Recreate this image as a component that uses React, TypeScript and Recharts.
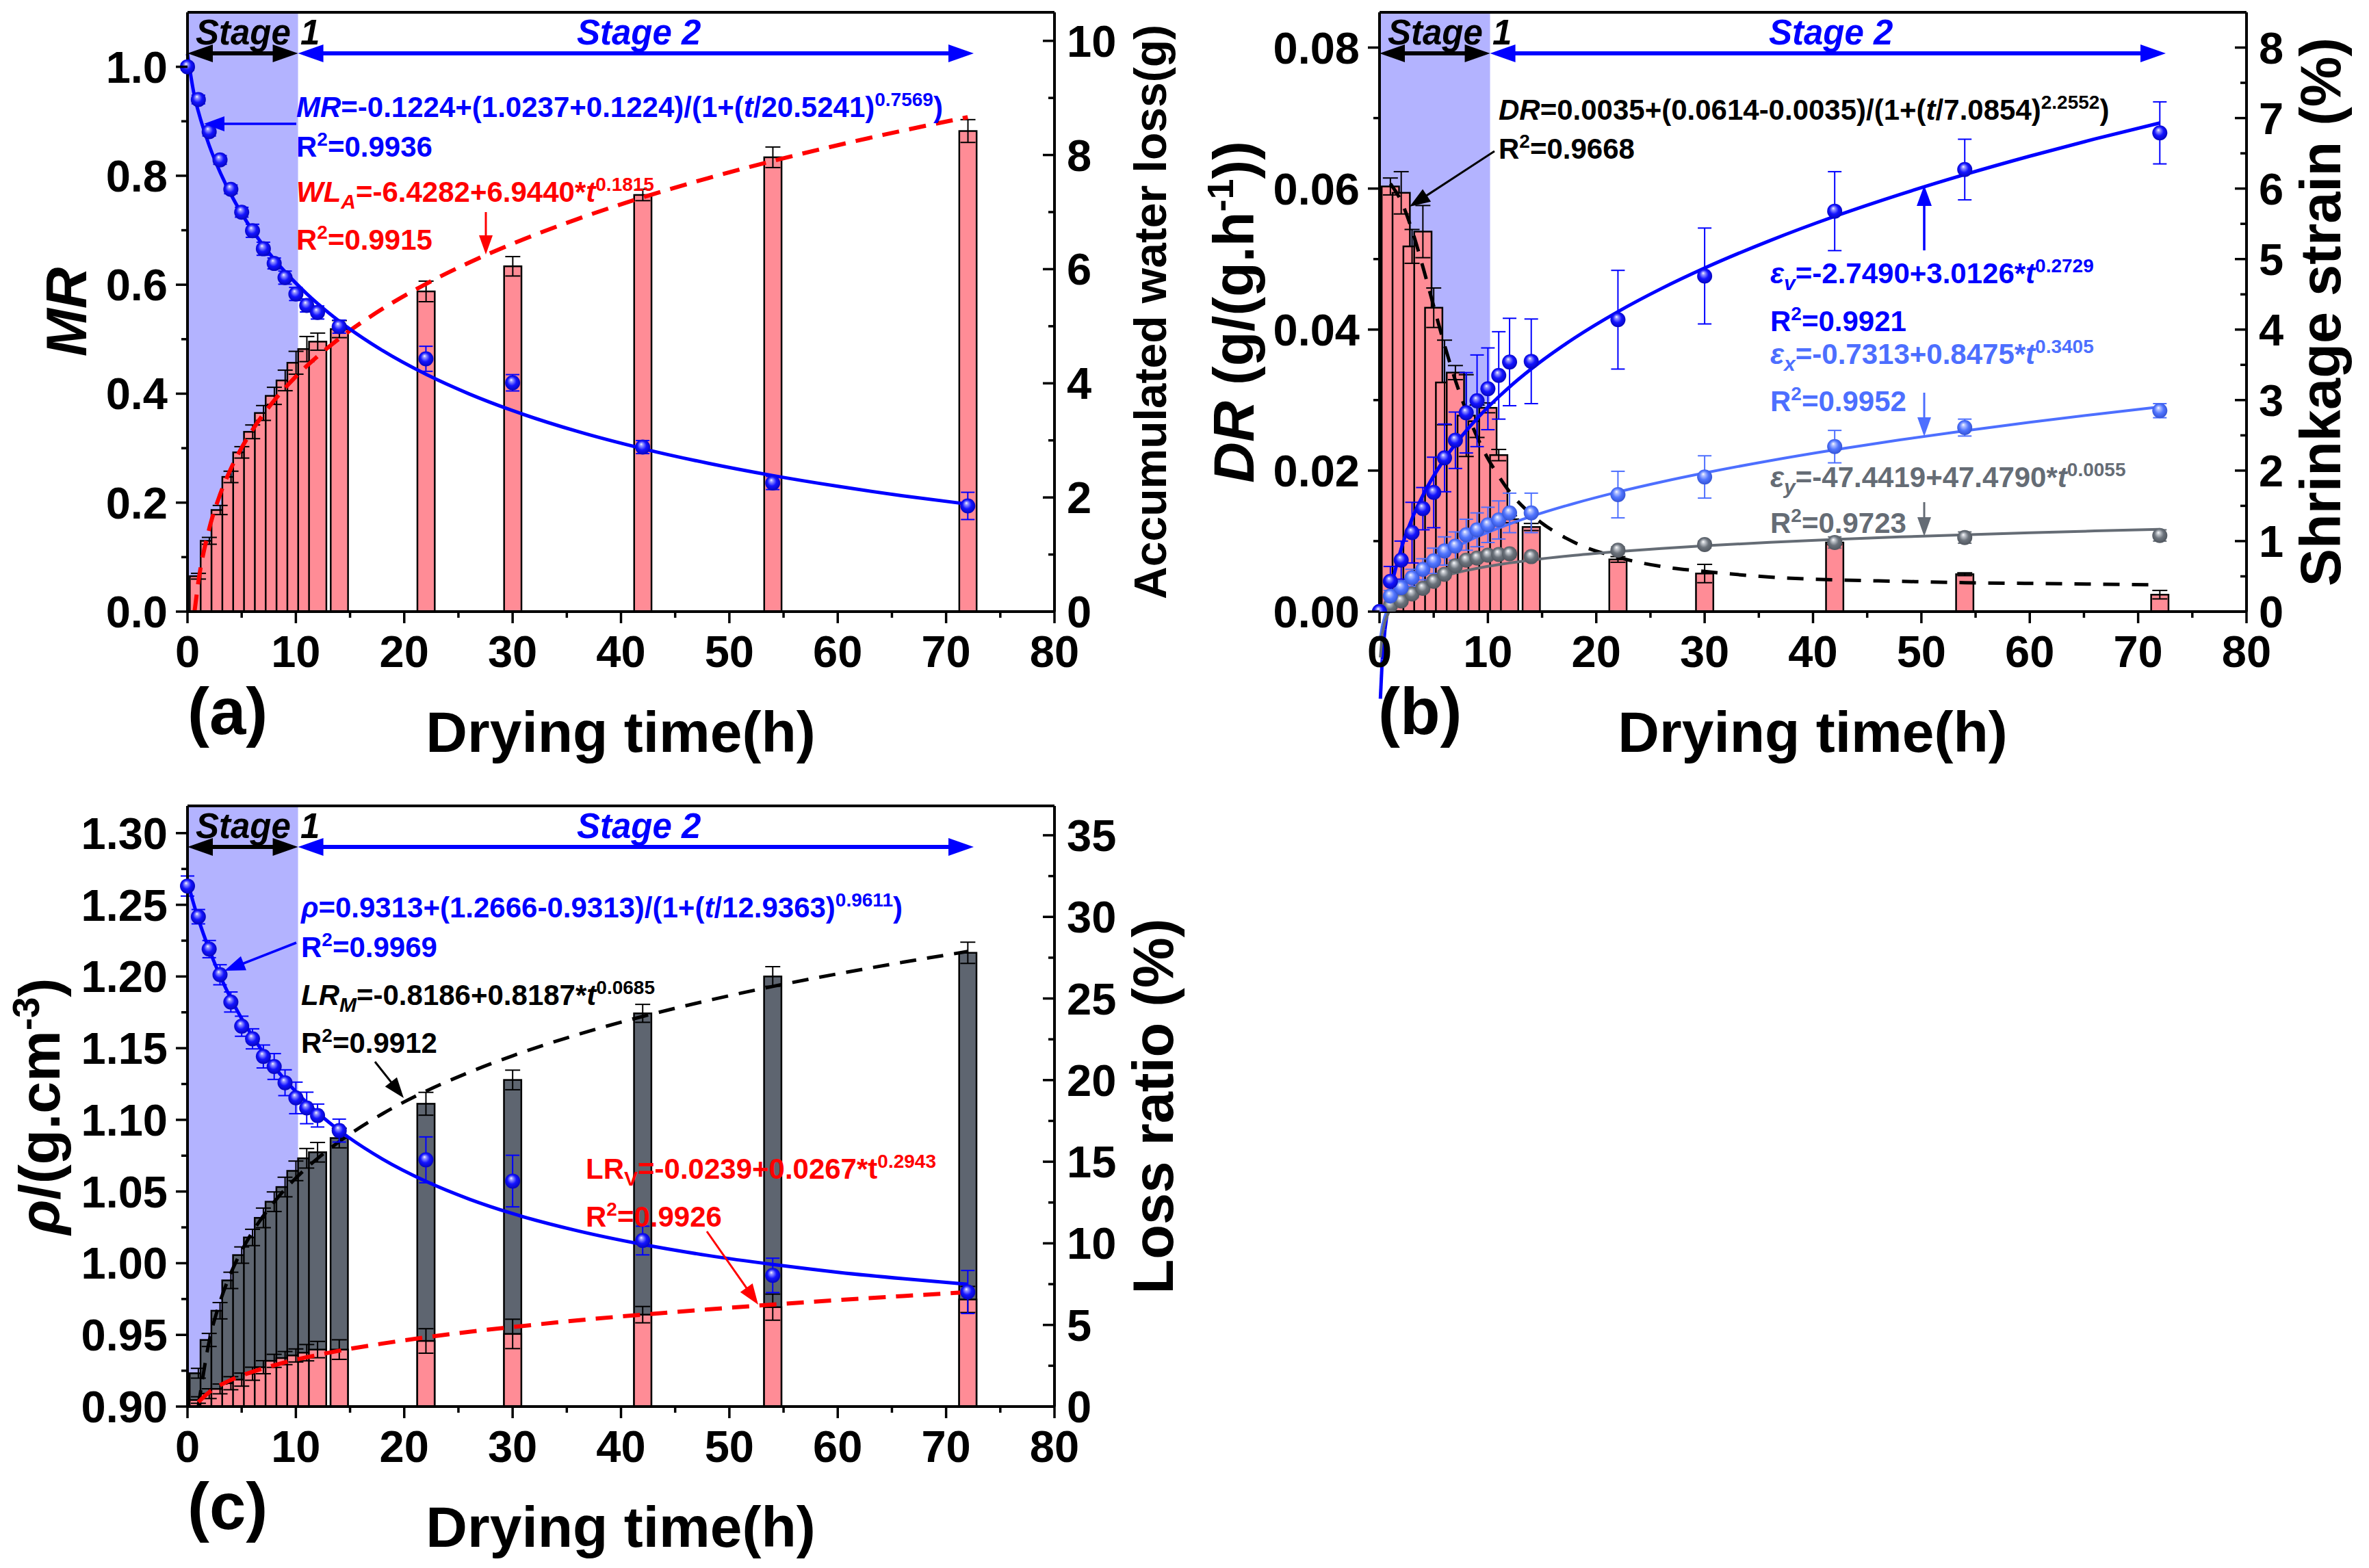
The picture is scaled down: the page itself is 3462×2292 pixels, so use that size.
import React from 'react';
import { ComposedChart, Bar, Line, XAxis, YAxis, ReferenceArea, ReferenceLine, ErrorBar } from 'recharts';

const FONT = '"Liberation Sans", Arial, Helvetica, sans-serif';
const BLUE = '#0000FF';
const LBLUE = '#4D6FFF';
const GRAY = '#656C75';
const DGRAY = '#5E6570';
const PINK = '#FF8C96';
const LAV = '#B3B3FF';
const RED = '#FF0000';

// ---------------- data: measured times ----------------
const TIME = [0, 1, 2, 3, 4, 5, 6, 7, 8, 9, 10, 11, 12, 14, 22, 30, 42, 54, 72];

// (a) moisture ratio & accumulated water loss
const MR = [1.0, 0.94, 0.881, 0.829, 0.775, 0.733, 0.699, 0.666, 0.639, 0.613, 0.583, 0.562, 0.549, 0.523, 0.464, 0.42, 0.302, 0.236, 0.194];
const MR_ERR = [0.006, 0.008, 0.008, 0.008, 0.008, 0.009, 0.012, 0.012, 0.01, 0.012, 0.012, 0.012, 0.012, 0.012, 0.023, 0.015, 0.012, 0.012, 0.025];
const WL = [null, 0.62, 1.24, 1.78, 2.36, 2.79, 3.15, 3.48, 3.78, 4.05, 4.36, 4.6, 4.73, 4.95, 5.61, 6.05, 7.3, 7.96, 8.42];
const WL_ERR = [null, 0.05, 0.06, 0.08, 0.1, 0.1, 0.12, 0.13, 0.15, 0.18, 0.2, 0.22, 0.15, 0.15, 0.18, 0.17, 0.1, 0.18, 0.2];

// (b) drying rate & shrinkage strains
const DR = [null, 0.0603, 0.0594, 0.0518, 0.0539, 0.0431, 0.0325, 0.0339, 0.0278, 0.027, 0.0289, 0.0222, 0.0131, 0.012, 0.0074, 0.0054, 0.0098, 0.0053, 0.0024];
const DR_ERR = [null, 0.0012, 0.003, 0.0024, 0.0037, 0.0028, 0.006, 0.001, 0.0058, 0.0023, 0.0007, 0.0008, 0.0005, 0.0005, 0.0004, 0.0013, 0.0003, 0.0002, 0.0006];
const EV = [0, 0.43, 0.73, 1.12, 1.46, 1.69, 2.18, 2.43, 2.82, 2.99, 3.16, 3.35, 3.54, 3.55, 4.14, 4.76, 5.68, 6.27, 6.79];
const EV_ERR = [null, 0.21, 0.27, 0.43, 0.3, 0.5, 0.48, 0.4, 0.57, 0.65, 0.58, 0.62, 0.62, 0.6, 0.7, 0.68, 0.56, 0.43, 0.44];
const EX = [0, 0.22, 0.34, 0.48, 0.6, 0.72, 0.86, 0.93, 1.09, 1.16, 1.23, 1.3, 1.4, 1.4, 1.66, 1.91, 2.34, 2.61, 2.85];
const EX_ERR = [null, 0.08, 0.1, 0.12, 0.15, 0.18, 0.2, 0.2, 0.22, 0.24, 0.25, 0.27, 0.28, 0.28, 0.33, 0.3, 0.23, 0.12, 0.1];
const EY = [0, 0.08, 0.15, 0.25, 0.33, 0.43, 0.53, 0.65, 0.73, 0.76, 0.8, 0.81, 0.82, 0.78, 0.87, 0.95, 0.98, 1.05, 1.08];
const EY_ERR = [null, 0.03, 0.04, 0.05, 0.05, 0.05, 0.05, 0.05, 0.05, 0.05, 0.05, 0.05, 0.05, 0.05, 0.05, 0.05, 0.08, 0.08, 0.08];

// (c) density & loss ratios
const RHO = [1.2631, 1.2417, 1.2191, 1.2012, 1.1822, 1.1653, 1.1565, 1.1442, 1.1372, 1.1259, 1.1153, 1.1083, 1.103, 1.0925, 1.0721, 1.0573, 1.0158, 0.9915, 0.9799];
const RHO_ERR = [0.007, 0.005, 0.006, 0.007, 0.007, 0.007, 0.007, 0.008, 0.009, 0.009, 0.011, 0.011, 0.008, 0.008, 0.016, 0.018, 0.01, 0.012, 0.015];
const LRM = [null, 2.04, 4.08, 5.87, 7.73, 9.28, 10.36, 11.56, 12.55, 13.45, 14.44, 15.21, 15.58, 16.45, 18.55, 20.01, 24.09, 26.35, 27.8];
const LRM_ERR = [null, 0.3, 0.4, 0.5, 0.5, 0.5, 0.5, 0.6, 0.6, 0.6, 0.6, 0.6, 0.6, 0.6, 0.7, 0.6, 0.55, 0.6, 0.65];
const LRV = [null, 0.4, 0.79, 1.08, 1.43, 1.65, 2.01, 2.41, 2.8, 2.97, 3.13, 3.3, 3.49, 3.49, 4.02, 4.45, 5.63, 6.09, 6.56];
const LRV_ERR = [null, 0.2, 0.3, 0.3, 0.4, 0.4, 0.4, 0.4, 0.4, 0.4, 0.4, 0.5, 0.5, 0.6, 0.75, 0.9, 0.5, 0.8, 0.8];

// ---------------- fitted curves ----------------
const FIT_T_A = [0, 0.65, 1, 2, 3, 4, 5, 6, 7, 8, 9, 10, 11, 12, 14, 18, 22, 26, 30, 36, 42, 48, 54, 60, 66, 72];
const MR_FIT = [1.0237, 0.9454, 0.918, 0.8558, 0.8069, 0.766, 0.7307, 0.6996, 0.6718, 0.6467, 0.6238, 0.6029, 0.5835, 0.5655, 0.5331, 0.4791, 0.4356, 0.3995, 0.3689, 0.3306, 0.2991, 0.2725, 0.2497, 0.23, 0.2126, 0.1973];
const WL_FIT = [null, 0.0, 0.516, 1.447, 2.048, 2.503, 2.872, 3.185, 3.457, 3.7, 3.919, 4.119, 4.303, 4.473, 4.783, 5.306, 5.741, 6.116, 6.446, 6.879, 7.257, 7.592, 7.895, 8.172, 8.427, 8.663];

const FIT_T_B = [0, 0.25, 0.5, 1, 2, 3, 4, 5, 6, 7, 8, 9, 10, 11, 12, 14, 18, 22, 26, 30, 36, 42, 48, 54, 60, 66, 72];
const DR_FIT = [null, null, null, 0.0607, 0.0582, 0.0541, 0.0489, 0.0433, 0.0378, 0.0328, 0.0285, 0.0248, 0.0217, 0.0192, 0.017, 0.0138, 0.0098, 0.0077, 0.0064, 0.0057, 0.0049, 0.0045, 0.0043, 0.0041, 0.004, 0.0039, 0.0038];
const EV_FIT = [null, -0.685, -0.256, 0.264, 0.891, 1.317, 1.649, 1.925, 2.164, 2.375, 2.565, 2.738, 2.898, 3.047, 3.187, 3.442, 3.881, 4.254, 4.581, 4.873, 5.261, 5.606, 5.916, 6.199, 6.46, 6.703, 6.93];
const EX_FIT = [null, -0.203, -0.062, 0.116, 0.342, 0.501, 0.627, 0.735, 0.829, 0.913, 0.989, 1.06, 1.125, 1.186, 1.244, 1.35, 1.536, 1.697, 1.839, 1.967, 2.14, 2.295, 2.435, 2.565, 2.685, 2.798, 2.904];
const EY_FIT = [null, -0.324, -0.144, 0.037, 0.219, 0.325, 0.401, 0.459, 0.507, 0.548, 0.583, 0.614, 0.642, 0.667, 0.69, 0.731, 0.798, 0.851, 0.896, 0.934, 0.982, 1.023, 1.059, 1.09, 1.118, 1.144, 1.167];
// portions of the strain fits that the original draws below the time axis
const EV_TAIL_T = [0.08, 0.25, 0.5, 0.72];
const EV_TAIL = [-1.237, -0.685, -0.256, 0];
const EX_TAIL_T = [0.08, 0.25, 0.5, 0.65];
const EX_TAIL = [-0.373, -0.203, -0.062, 0];
const EY_TAIL_T = [0.07, 0.25, 0.5, 0.87];
const EY_TAIL = [-0.65, -0.324, -0.144, 0];

const FIT_T_C = [0, 0.5, 1, 2, 3, 4, 5, 6, 7, 8, 9, 10, 11, 12, 14, 18, 22, 26, 30, 36, 42, 48, 54, 60, 66, 72];
const RHO_FIT = [1.2666, 1.2525, 1.2402, 1.2188, 1.2005, 1.1846, 1.1706, 1.1582, 1.147, 1.137, 1.1279, 1.1196, 1.112, 1.105, 1.0926, 1.0726, 1.0571, 1.0447, 1.0346, 1.0226, 1.0131, 1.0054, 0.9991, 0.9937, 0.9892, 0.9853];
const LRM_FIT = [null, null, 0.01, 3.99, 6.41, 8.17, 9.55, 10.7, 11.68, 12.54, 13.31, 14.0, 14.63, 15.2, 16.23, 17.94, 19.32, 20.48, 21.49, 22.79, 23.9, 24.87, 25.74, 26.51, 27.22, 27.88];
const LRV_FIT = [null, null, 0.28, 0.88, 1.3, 1.63, 1.9, 2.13, 2.34, 2.53, 2.71, 2.87, 3.02, 3.16, 3.42, 3.86, 4.24, 4.58, 4.87, 5.28, 5.63, 5.95, 6.25, 6.52, 6.77, 7.01];

// ---------------- tick labels ----------------
const X_TICKS = [0, 5, 10, 15, 20, 25, 30, 35, 40, 45, 50, 55, 60, 65, 70, 75, 80];
const X_MAJ = [0, 10, 20, 30, 40, 50, 60, 70, 80];
const A_L_TICKS = [0, 0.1, 0.2, 0.3, 0.4, 0.5, 0.6, 0.7, 0.8, 0.9, 1.0];
const A_L_MAJ = [0, 0.2, 0.4, 0.6, 0.8, 1.0];
const A_R_TICKS = [0, 1, 2, 3, 4, 5, 6, 7, 8, 9, 10];
const A_R_MAJ = [0, 2, 4, 6, 8, 10];
const B_L_TICKS = [0, 0.01, 0.02, 0.03, 0.04, 0.05, 0.06, 0.07, 0.08];
const B_L_MAJ = [0, 0.02, 0.04, 0.06, 0.08];
const B_R_TICKS = [0, 0.5, 1, 1.5, 2, 2.5, 3, 3.5, 4, 4.5, 5, 5.5, 6, 6.5, 7, 7.5, 8];
const B_R_MAJ = [0, 1, 2, 3, 4, 5, 6, 7, 8];
const C_L_TICKS = [0.9, 0.925, 0.95, 0.975, 1.0, 1.025, 1.05, 1.075, 1.1, 1.125, 1.15, 1.175, 1.2, 1.225, 1.25, 1.275, 1.3];
const C_L_MAJ = [0.9, 0.95, 1.0, 1.05, 1.1, 1.15, 1.2, 1.25, 1.3];
const C_R_TICKS = [0, 2.5, 5, 7.5, 10, 12.5, 15, 17.5, 20, 22.5, 25, 27.5, 30, 32.5, 35];
const C_R_MAJ = [0, 5, 10, 15, 20, 25, 30, 35];

type Row = { t: number; [k: string]: number };
function mergeRows(groups: Array<[number[], Record<string, Array<number | null>>]>): Row[] {
  const map = new Map<number, Row>();
  for (const [times, cols] of groups) {
    times.forEach((t, i) => {
      let r = map.get(t);
      if (!r) {
        r = { t };
        map.set(t, r);
      }
      for (const k of Object.keys(cols)) {
        const v = cols[k][i];
        if (v !== null && v !== undefined) r[k] = v;
      }
    });
  }
  return Array.from(map.values()).sort((a, b) => a.t - b.t);
}

const rowsA = mergeRows([
  [TIME, { mr: MR, mrErr: MR_ERR, wl: WL, wlErr: WL_ERR }],
  [FIT_T_A, { mrFit: MR_FIT, wlFit: WL_FIT }],
]);
const rowsB = mergeRows([
  [TIME, { dr: DR, drErr: DR_ERR, ev: EV, evErr: EV_ERR, ex: EX, exErr: EX_ERR, ey: EY, eyErr: EY_ERR }],
  [FIT_T_B, { drFit: DR_FIT, evFit: EV_FIT, exFit: EX_FIT, eyFit: EY_FIT }],
]);
const rowsC = mergeRows([
  [TIME, { rho: RHO, rhoErr: RHO_ERR, lrm: LRM, lrmErr: LRM_ERR, lrv: LRV, lrvErr: LRV_ERR }],
  [FIT_T_C, { rhoFit: RHO_FIT, lrmFit: LRM_FIT, lrvFit: LRV_FIT }],
]);

function tailSegments(ts: number[], vs: number[]) {
  const segs: Array<[{ x: number; y: number }, { x: number; y: number }]> = [];
  for (let i = 1; i < ts.length; i++) segs.push([{ x: ts[i - 1], y: vs[i - 1] }, { x: ts[i], y: vs[i] }]);
  return segs;
}

// ---------------- layout / style ----------------
const PLOT_W = 1267;
const PX_PER_H = PLOT_W / 80;
const BAR_W = 1.6 * PX_PER_H;
const AXIS_LINE = { stroke: '#000', strokeWidth: 4 };

function barShape(fill: string) {
  return (p: any) => {
    const { x, y, width, height } = p;
    if (![x, y, width, height].every((n) => typeof n === 'number' && isFinite(n)) || height <= 0) return <g />;
    const cx = x + width / 2;
    return <rect x={cx - BAR_W / 2} y={y} width={BAR_W} height={height} fill={fill} stroke="#000" strokeWidth={2.5} />;
  };
}
const pinkBar = barShape(PINK);
const grayBar = barShape(DGRAY);

function SphereDot(p: any) {
  const { cx, cy, gid } = p;
  if (typeof cx !== 'number' || typeof cy !== 'number' || !isFinite(cx) || !isFinite(cy)) return null;
  return <circle cx={cx} cy={cy} r={11} fill={`url(#${gid})`} />;
}

function makeTick(kind: 'left' | 'right' | 'bottom', majors: number[], fmt: (v: number) => string) {
  return function TickMark(props: any) {
    const { x, y, payload } = props;
    const v = Number(payload && payload.value);
    const isMajor = majors.some((m) => Math.abs(m - v) < 1e-6);
    const len = isMajor ? 17 : 9;
    const tp = { fontFamily: FONT, fontWeight: 700, fontSize: 65, fill: '#000' } as any;
    if (kind === 'bottom') {
      return (
        <g>
          <line x1={x} y1={y} x2={x} y2={y + len} stroke="#000" strokeWidth={3.5} />
          {isMajor && (
            <text x={x} y={y + 81} textAnchor="middle" {...tp}>
              {fmt(v)}
            </text>
          )}
        </g>
      );
    }
    if (kind === 'left') {
      return (
        <g>
          <line x1={x - len} y1={y} x2={x} y2={y} stroke="#000" strokeWidth={3.5} />
          {isMajor && (
            <text x={x - 29} y={y + 23} textAnchor="end" {...tp}>
              {fmt(v)}
            </text>
          )}
        </g>
      );
    }
    return (
      <g>
        <line x1={x - len} y1={y} x2={x} y2={y} stroke="#000" strokeWidth={3.5} />
        {isMajor && (
          <text x={x + 18} y={y + 23} textAnchor="start" {...tp}>
            {fmt(v)}
          </text>
        )}
      </g>
    );
  };
}

const xTick = makeTick('bottom', X_MAJ, (v) => String(v));
const aLTick = makeTick('left', A_L_MAJ, (v) => v.toFixed(1));
const aRTick = makeTick('right', A_R_MAJ, (v) => String(v));
const bLTick = makeTick('left', B_L_MAJ, (v) => v.toFixed(2));
const bRTick = makeTick('right', B_R_MAJ, (v) => String(v));
const cLTick = makeTick('left', C_L_MAJ, (v) => v.toFixed(2));
const cRTick = makeTick('right', C_R_MAJ, (v) => String(v));

function Arrow(props: { x1: number; y1: number; x2: number; y2: number; color: string; w?: number; hl?: number; hw?: number; both?: boolean }) {
  const { x1, y1, x2, y2, color, w = 3, hl = 30, hw = 11, both = false } = props;
  const a = Math.atan2(y2 - y1, x2 - x1);
  const c = Math.cos(a);
  const s = Math.sin(a);
  const head = (tx: number, ty: number, dir: number) => {
    const bx = tx - dir * hl * c;
    const by = ty - dir * hl * s;
    return `${tx},${ty} ${bx - s * hw},${by + c * hw} ${bx + s * hw},${by - c * hw}`;
  };
  const sx = both ? x1 + hl * 0.8 * c : x1;
  const sy = both ? y1 + hl * 0.8 * s : y1;
  const ex = x2 - hl * 0.8 * c;
  const ey = y2 - hl * 0.8 * s;
  return (
    <g>
      <line x1={sx} y1={sy} x2={ex} y2={ey} stroke={color} strokeWidth={w} />
      <polygon points={head(x2, y2, 1)} fill={color} />
      {both && <polygon points={head(x1, y1, -1)} fill={color} />}
    </g>
  );
}

const ANN = { fontFamily: FONT, fontSize: 42, fontWeight: 700 } as any;
const TITLE = { fontFamily: FONT, fontWeight: 700 } as any;

function StageMarks({ L, T }: { L: number; T: number }) {
  const mid = L + 10.2 * PX_PER_H;
  const end = L + 72.55 * PX_PER_H;
  const ay = T + 60;
  return (
    <g>
      <text x={L + 12} y={T + 47} fontFamily={FONT} fontWeight={700} fontStyle="italic" fontSize={51} fill="#000">
        Stage 1
      </text>
      <text x={L + 569} y={T + 47} fontFamily={FONT} fontWeight={700} fontStyle="italic" fontSize={51} fill={BLUE}>
        Stage 2
      </text>
      <Arrow x1={L} y1={ay} x2={mid} y2={ay} color="#000" w={6} hl={37} hw={13} both />
      <Arrow x1={mid} y1={ay} x2={end} y2={ay} color={BLUE} w={6} hl={37} hw={13} both />
    </g>
  );
}

function Gradients() {
  const g = (id: string, hi: string, mid: string, base: string, dark: string) => (
    <radialGradient id={id} cx="0.5" cy="0.5" r="0.6" fx="0.4" fy="0.3">
      <stop offset="0" stopColor={hi} />
      <stop offset="0.16" stopColor={mid} />
      <stop offset="0.5" stopColor={base} />
      <stop offset="1" stopColor={dark} />
    </radialGradient>
  );
  return (
    <defs>
      {g('gBlue', '#FFFFFF', '#9A9AFF', '#1414FF', '#0000A8')}
      {g('gLBlue', '#FFFFFF', '#B8C6FF', '#5276FF', '#2A48C8')}
      {g('gGray', '#FFFFFF', '#C8CCD2', '#6C737C', '#464C54')}
    </defs>
  );
}

function Overlay() {
  return (
    <svg width={3462} height={2292} style={{ position: 'absolute', left: 0, top: 0, pointerEvents: 'none' }}>
      <Gradients />
      {/* frames (top border) */}
      <line x1={274} y1={18} x2={1541} y2={18} stroke="#000" strokeWidth={4} />
      <line x1={2016} y1={18} x2={3283} y2={18} stroke="#000" strokeWidth={4} />
      <line x1={274} y1={1178} x2={1541} y2={1178} stroke="#000" strokeWidth={4} />

      {/* ---------- panel (a) ---------- */}
      <StageMarks L={274} T={18} />
      <text x={433} y={171} fill={BLUE} {...ANN}>
        <tspan fontStyle="italic">MR</tspan>
        <tspan>=-0.1224+(1.0237+0.1224)/(1+(</tspan>
        <tspan fontStyle="italic">t</tspan>
        <tspan>/20.5241)</tspan>
        <tspan dy={-16} fontSize={28}>0.7569</tspan>
        <tspan dy={16}>)</tspan>
      </text>
      <text x={433} y={229} fill={BLUE} {...ANN}>
        <tspan>R</tspan>
        <tspan dy={-16} fontSize={28}>2</tspan>
        <tspan dy={16}>=0.9936</tspan>
      </text>
      <Arrow x1={433} y1={181} x2={298} y2={181} color={BLUE} w={3.5} hl={30} hw={11} />
      <text x={433} y={295} fill={RED} {...ANN}>
        <tspan fontStyle="italic">WL</tspan>
        <tspan dy={10} fontSize={30} fontStyle="italic">A</tspan>
        <tspan dy={-10}>=-6.4282+6.9440*</tspan>
        <tspan fontStyle="italic">t</tspan>
        <tspan dy={-16} fontSize={28}>0.1815</tspan>
      </text>
      <text x={433} y={365} fill={RED} {...ANN}>
        <tspan>R</tspan>
        <tspan dy={-16} fontSize={28}>2</tspan>
        <tspan dy={16}>=0.9915</tspan>
      </text>
      <Arrow x1={710} y1={310} x2={710} y2={372} color={RED} w={3} hl={28} hw={10} />
      <text transform="translate(126,456) rotate(-90)" textAnchor="middle" fontSize={84} fontStyle="italic" {...TITLE}>
        MR
      </text>
      <text transform="translate(1704,456) rotate(-90)" textAnchor="middle" fontSize={66} {...TITLE}>
        Accumulated water loss(g)
      </text>
      <text x={907} y={1099} textAnchor="middle" fontSize={84} {...TITLE}>
        Drying time(h)
      </text>
      <text x={274} y={1073} fontSize={96} {...TITLE}>
        (a)
      </text>

      {/* ---------- panel (b) ---------- */}
      <StageMarks L={2016} T={18} />
      <text x={2190} y={175} fill="#000" {...ANN}>
        <tspan fontStyle="italic">DR</tspan>
        <tspan>=0.0035+(0.0614-0.0035)/(1+(</tspan>
        <tspan fontStyle="italic">t</tspan>
        <tspan>/7.0854)</tspan>
        <tspan dy={-16} fontSize={28}>2.2552</tspan>
        <tspan dy={16}>)</tspan>
      </text>
      <text x={2190} y={232} fill="#000" {...ANN}>
        <tspan>R</tspan>
        <tspan dy={-16} fontSize={28}>2</tspan>
        <tspan dy={16}>=0.9668</tspan>
      </text>
      <Arrow x1={2184} y1={221} x2={2060} y2={302} color="#000" w={3} hl={30} hw={11} />
      <text x={2587} y={414} fill={BLUE} {...ANN}>
        <tspan fontStyle="italic">ε</tspan>
        <tspan dy={10} fontSize={30} fontStyle="italic">v</tspan>
        <tspan dy={-10}>=-2.7490+3.0126*</tspan>
        <tspan fontStyle="italic">t</tspan>
        <tspan dy={-16} fontSize={28}>0.2729</tspan>
      </text>
      <text x={2587} y={484} fill={BLUE} {...ANN}>
        <tspan>R</tspan>
        <tspan dy={-16} fontSize={28}>2</tspan>
        <tspan dy={16}>=0.9921</tspan>
      </text>
      <text x={2587} y={532} fill={LBLUE} {...ANN}>
        <tspan fontStyle="italic">ε</tspan>
        <tspan dy={10} fontSize={30} fontStyle="italic">x</tspan>
        <tspan dy={-10}>=-0.7313+0.8475*</tspan>
        <tspan fontStyle="italic">t</tspan>
        <tspan dy={-16} fontSize={28}>0.3405</tspan>
      </text>
      <text x={2587} y={601} fill={LBLUE} {...ANN}>
        <tspan>R</tspan>
        <tspan dy={-16} fontSize={28}>2</tspan>
        <tspan dy={16}>=0.9952</tspan>
      </text>
      <text x={2587} y={712} fill={GRAY} {...ANN}>
        <tspan fontStyle="italic">ε</tspan>
        <tspan dy={10} fontSize={30} fontStyle="italic">y</tspan>
        <tspan dy={-10}>=-47.4419+47.4790*</tspan>
        <tspan fontStyle="italic">t</tspan>
        <tspan dy={-16} fontSize={28}>0.0055</tspan>
      </text>
      <text x={2587} y={779} fill={GRAY} {...ANN}>
        <tspan>R</tspan>
        <tspan dy={-16} fontSize={28}>2</tspan>
        <tspan dy={16}>=0.9723</tspan>
      </text>
      <Arrow x1={2812} y1={366} x2={2812} y2={271} color={BLUE} w={3.5} hl={30} hw={11} />
      <Arrow x1={2812} y1={574} x2={2812} y2={638} color={LBLUE} w={3} hl={28} hw={10} />
      <Arrow x1={2812} y1={734} x2={2812} y2={784} color={GRAY} w={3} hl={28} hw={10} />
      <text transform="translate(1832,456) rotate(-90)" textAnchor="middle" fontSize={83} {...TITLE}>
        <tspan fontStyle="italic">DR</tspan>
        <tspan> (g/(g.h</tspan>
        <tspan dy={-30} fontSize={54}>-1</tspan>
        <tspan dy={30}>))</tspan>
      </text>
      <text transform="translate(3420,456) rotate(-90)" textAnchor="middle" fontSize={83} {...TITLE}>
        Shrinkage strain (%)
      </text>
      <text x={2649} y={1099} textAnchor="middle" fontSize={84} {...TITLE}>
        Drying time(h)
      </text>
      <text x={2014} y={1073} fontSize={96} {...TITLE}>
        (b)
      </text>

      {/* ---------- panel (c) ---------- */}
      <StageMarks L={274} T={1178} />
      <text x={440} y={1341} fill={BLUE} {...ANN}>
        <tspan fontStyle="italic">ρ</tspan>
        <tspan>=0.9313+(1.2666-0.9313)/(1+(</tspan>
        <tspan fontStyle="italic">t</tspan>
        <tspan>/12.9363)</tspan>
        <tspan dy={-16} fontSize={28}>0.9611</tspan>
        <tspan dy={16}>)</tspan>
      </text>
      <text x={440} y={1399} fill={BLUE} {...ANN}>
        <tspan>R</tspan>
        <tspan dy={-16} fontSize={28}>2</tspan>
        <tspan dy={16}>=0.9969</tspan>
      </text>
      <Arrow x1={433} y1={1378} x2={328} y2={1419} color={BLUE} w={3.5} hl={30} hw={11} />
      <text x={440} y={1469} fill="#000" {...ANN}>
        <tspan fontStyle="italic">LR</tspan>
        <tspan dy={10} fontSize={30} fontStyle="italic">M</tspan>
        <tspan dy={-10}>=-0.8186+0.8187*</tspan>
        <tspan fontStyle="italic">t</tspan>
        <tspan dy={-16} fontSize={28}>0.0685</tspan>
      </text>
      <text x={440} y={1539} fill="#000" {...ANN}>
        <tspan>R</tspan>
        <tspan dy={-16} fontSize={28}>2</tspan>
        <tspan dy={16}>=0.9912</tspan>
      </text>
      <Arrow x1={548} y1={1552} x2={590} y2={1605} color="#000" w={3} hl={30} hw={11} />
      <text x={856} y={1723} fill={RED} {...ANN}>
        <tspan>LR</tspan>
        <tspan dy={10} fontSize={30}>V</tspan>
        <tspan dy={-10}>=-0.0239+0.0267*t</tspan>
        <tspan dy={-16} fontSize={28}>0.2943</tspan>
      </text>
      <text x={856} y={1793} fill={RED} {...ANN}>
        <tspan>R</tspan>
        <tspan dy={-16} fontSize={28}>2</tspan>
        <tspan dy={16}>=0.9926</tspan>
      </text>
      <Arrow x1={1033} y1={1800} x2={1108} y2={1907} color={RED} w={3} hl={30} hw={11} />
      <text transform="translate(87,1617) rotate(-90)" textAnchor="middle" fontSize={84} {...TITLE}>
        <tspan fontStyle="italic">ρ</tspan>
        <tspan>/(g.cm</tspan>
        <tspan dy={-30} fontSize={55}>-3</tspan>
        <tspan dy={30}>)</tspan>
      </text>
      <text transform="translate(1714,1617) rotate(-90)" textAnchor="middle" fontSize={83} {...TITLE}>
        Loss ratio (%)
      </text>
      <text x={907} y={2261} textAnchor="middle" fontSize={84} {...TITLE}>
        Drying time(h)
      </text>
      <text x={274} y={2235} fontSize={96} {...TITLE}>
        (c)
      </text>
    </svg>
  );
}

export default function App() {
  const xCommon = {
    dataKey: 't',
    type: 'number' as const,
    domain: [0, 80] as [number, number],
    ticks: X_TICKS,
    interval: 0 as const,
    axisLine: AXIS_LINE,
    tickLine: false,
    tickSize: 0,
    tickMargin: 0,
    tick: xTick,
  };
  const yCommon = { axisLine: AXIS_LINE, tickLine: false, tickSize: 0, tickMargin: 0, interval: 0 as const, type: 'number' as const };
  const tails: Array<[number[], number[], string, number]> = [
    [EV_TAIL_T, EV_TAIL, BLUE, 5],
    [EX_TAIL_T, EX_TAIL, LBLUE, 4],
    [EY_TAIL_T, EY_TAIL, GRAY, 4],
  ];
  return (
    <div style={{ position: 'absolute', left: 0, top: 0, width: 3462, height: 2292, background: '#fff', overflow: 'hidden' }}>
      {/* (a) */}
      <div style={{ position: 'absolute', left: 0, top: 0 }}>
        <ComposedChart width={1730} height={1146} data={rowsA} margin={{ top: 18, right: 0, bottom: 0, left: 0 }} barCategoryGap={0} barGap={0}>
          <XAxis xAxisId="x" height={252} {...xCommon} />
          <YAxis yAxisId="left" orientation="left" width={274} domain={[0, 1.1]} ticks={A_L_TICKS} tick={aLTick} {...yCommon} />
          <YAxis yAxisId="right" orientation="right" width={189} domain={[0, 10.5]} ticks={A_R_TICKS} tick={aRTick} {...yCommon} />
          <ReferenceArea xAxisId="x" yAxisId="left" x1={0} x2={10.2} fill={LAV} fillOpacity={1} stroke="none" />
          <Bar xAxisId="x" yAxisId="right" dataKey="wl" shape={pinkBar} isAnimationActive={false}>
            <ErrorBar dataKey="wlErr" width={11} strokeWidth={2} stroke="#000" isAnimationActive={false} />
          </Bar>
          <Line xAxisId="x" yAxisId="right" dataKey="wlFit" type="monotone" stroke={RED} strokeWidth={6} strokeDasharray="25 15" dot={false} activeDot={false} connectNulls isAnimationActive={false} />
          <Line xAxisId="x" yAxisId="left" dataKey="mrFit" type="monotone" stroke={BLUE} strokeWidth={5} dot={false} activeDot={false} connectNulls isAnimationActive={false} />
          <Line xAxisId="x" yAxisId="left" dataKey="mr" stroke="none" dot={<SphereDot gid="gBlue" />} activeDot={false} isAnimationActive={false}>
            <ErrorBar dataKey="mrErr" width={10} strokeWidth={2} stroke={BLUE} isAnimationActive={false} />
          </Line>
        </ComposedChart>
      </div>

      {/* (b) */}
      <div style={{ position: 'absolute', left: 1730, top: 0 }}>
        <ComposedChart width={1732} height={1146} data={rowsB} margin={{ top: 18, right: 0, bottom: 0, left: 0 }} barCategoryGap={0} barGap={0}>
          <XAxis xAxisId="x" height={252} {...xCommon} />
          <YAxis yAxisId="left" orientation="left" width={286} domain={[0, 0.085]} ticks={B_L_TICKS} tick={bLTick} {...yCommon} />
          <YAxis yAxisId="right" orientation="right" width={179} domain={[0, 8.5]} ticks={B_R_TICKS} tick={bRTick} allowDataOverflow {...yCommon} />
          <ReferenceArea xAxisId="x" yAxisId="left" x1={0} x2={10.2} fill={LAV} fillOpacity={1} stroke="none" />
          <Bar xAxisId="x" yAxisId="left" dataKey="dr" shape={pinkBar} isAnimationActive={false}>
            <ErrorBar dataKey="drErr" width={11} strokeWidth={2} stroke="#000" isAnimationActive={false} />
          </Bar>
          <Line xAxisId="x" yAxisId="left" dataKey="drFit" type="monotone" stroke="#000" strokeWidth={5} strokeDasharray="24 18" dot={false} activeDot={false} connectNulls isAnimationActive={false} />
          {tails.map(([ts, vs, col, w], k) =>
            tailSegments(ts, vs).map((seg, i) => (
              <ReferenceLine key={`tail-${k}-${i}`} xAxisId="x" yAxisId="right" segment={seg} stroke={col} strokeWidth={w} ifOverflow="visible" />
            ))
          )}
          <Line xAxisId="x" yAxisId="right" dataKey="eyFit" type="monotone" stroke={GRAY} strokeWidth={4} dot={false} activeDot={false} connectNulls isAnimationActive={false} />
          <Line xAxisId="x" yAxisId="right" dataKey="exFit" type="monotone" stroke={LBLUE} strokeWidth={4} dot={false} activeDot={false} connectNulls isAnimationActive={false} />
          <Line xAxisId="x" yAxisId="right" dataKey="evFit" type="monotone" stroke={BLUE} strokeWidth={5} dot={false} activeDot={false} connectNulls isAnimationActive={false} />
          <Line xAxisId="x" yAxisId="right" dataKey="ey" stroke="none" dot={<SphereDot gid="gGray" />} activeDot={false} isAnimationActive={false}>
            <ErrorBar dataKey="eyErr" width={10} strokeWidth={2} stroke={GRAY} isAnimationActive={false} />
          </Line>
          <Line xAxisId="x" yAxisId="right" dataKey="ex" stroke="none" dot={<SphereDot gid="gLBlue" />} activeDot={false} isAnimationActive={false}>
            <ErrorBar dataKey="exErr" width={10} strokeWidth={2} stroke={LBLUE} isAnimationActive={false} />
          </Line>
          <Line xAxisId="x" yAxisId="right" dataKey="ev" stroke="none" dot={<SphereDot gid="gBlue" />} activeDot={false} isAnimationActive={false}>
            <ErrorBar dataKey="evErr" width={10} strokeWidth={2} stroke={BLUE} isAnimationActive={false} />
          </Line>
        </ComposedChart>
      </div>

      {/* (c) */}
      <div style={{ position: 'absolute', left: 0, top: 1146 }}>
        <ComposedChart width={1730} height={1146} data={rowsC} margin={{ top: 32, right: 0, bottom: 0, left: 0 }} barCategoryGap={0} barGap={0}>
          <XAxis xAxisId="x" height={236} {...xCommon} />
          <XAxis xAxisId="x2" dataKey="t" type="number" domain={[0, 80]} hide />
          <YAxis yAxisId="left" orientation="left" width={274} domain={[0.9, 1.319]} ticks={C_L_TICKS} tick={cLTick} {...yCommon} />
          <YAxis yAxisId="right" orientation="right" width={189} domain={[0, 36.8]} ticks={C_R_TICKS} tick={cRTick} {...yCommon} />
          <ReferenceArea xAxisId="x" yAxisId="left" x1={0} x2={10.2} fill={LAV} fillOpacity={1} stroke="none" />
          <Bar xAxisId="x" yAxisId="right" dataKey="lrm" shape={grayBar} isAnimationActive={false}>
            <ErrorBar dataKey="lrmErr" width={11} strokeWidth={2} stroke="#000" isAnimationActive={false} />
          </Bar>
          <Bar xAxisId="x2" yAxisId="right" dataKey="lrv" shape={pinkBar} isAnimationActive={false}>
            <ErrorBar dataKey="lrvErr" width={11} strokeWidth={2} stroke="#000" isAnimationActive={false} />
          </Bar>
          <Line xAxisId="x" yAxisId="right" dataKey="lrmFit" type="monotone" stroke="#000" strokeWidth={5} strokeDasharray="24 16" dot={false} activeDot={false} connectNulls isAnimationActive={false} />
          <Line xAxisId="x" yAxisId="right" dataKey="lrvFit" type="monotone" stroke={RED} strokeWidth={6} strokeDasharray="25 15" dot={false} activeDot={false} connectNulls isAnimationActive={false} />
          <Line xAxisId="x" yAxisId="left" dataKey="rhoFit" type="monotone" stroke={BLUE} strokeWidth={5} dot={false} activeDot={false} connectNulls isAnimationActive={false} />
          <Line xAxisId="x" yAxisId="left" dataKey="rho" stroke="none" dot={<SphereDot gid="gBlue" />} activeDot={false} isAnimationActive={false}>
            <ErrorBar dataKey="rhoErr" width={10} strokeWidth={2} stroke={BLUE} isAnimationActive={false} />
          </Line>
        </ComposedChart>
      </div>

      <Overlay />
    </div>
  );
}
